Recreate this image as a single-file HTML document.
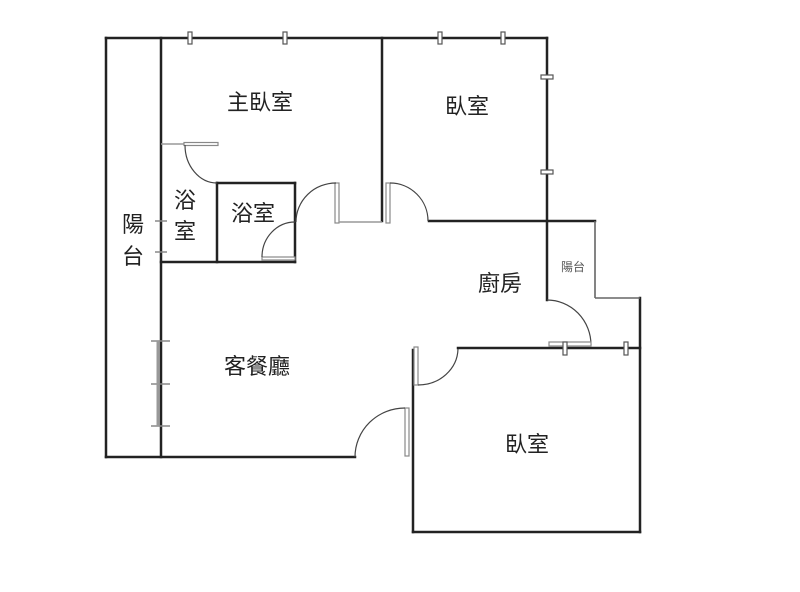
<!DOCTYPE html>
<html><head><meta charset="utf-8"><style>
html,body{margin:0;padding:0;background:#fff;}
svg{display:block;}
text{font-family:"Liberation Sans","Noto Sans CJK TC",sans-serif;fill:#222;}
</style></head><body>
<svg width="800" height="592" viewBox="0 0 800 592" xmlns="http://www.w3.org/2000/svg">
<g stroke="#222" stroke-width="2.5" fill="none" stroke-linecap="square">
<line x1="106" y1="38" x2="547" y2="38"/>
<line x1="106" y1="38" x2="106" y2="457"/>
<line x1="161" y1="38" x2="161" y2="457"/>
<line x1="106" y1="457" x2="355" y2="457"/>
<line x1="382" y1="38" x2="382" y2="221"/>
<line x1="547" y1="38" x2="547" y2="300"/>
<line x1="429" y1="221" x2="595" y2="221"/>
<line x1="217" y1="183" x2="295" y2="183"/>
<line x1="217" y1="183" x2="217" y2="262"/>
<line x1="295" y1="183" x2="295" y2="262"/>
<line x1="161" y1="262" x2="295" y2="262"/>
<line x1="413" y1="350" x2="413" y2="532"/>
<line x1="413" y1="532" x2="640" y2="532"/>
<line x1="640" y1="298" x2="640" y2="532"/>
<line x1="458" y1="348" x2="640" y2="348"/>
</g>
<g stroke="#666" stroke-width="1.6" fill="none">
<line x1="595" y1="221" x2="595" y2="298"/>
<line x1="595" y1="298" x2="640" y2="298"/>
</g>
<g stroke="#444" stroke-width="1.2" fill="none">
<line x1="161" y1="144" x2="185" y2="144" stroke="#999" stroke-width="1.5"/>
<rect x="184" y="142.5" width="34" height="3" fill="#fff" stroke="#888"/>
<path d="M185 145 A32 38 0 0 0 217 183"/>
<rect x="262" y="257" width="33" height="3" fill="#fff" stroke="#888"/>
<path d="M262 257 A33 35 0 0 1 295 222"/>
<rect x="335" y="183" width="4" height="40" fill="#fff" stroke="#888"/>
<path d="M296 222 A40 39 0 0 1 336 183"/>
<line x1="339" y1="222" x2="382" y2="222" stroke="#999" stroke-width="1.5"/>
<rect x="386" y="183" width="4" height="40" fill="#fff" stroke="#888"/>
<path d="M390 183 A38 38 0 0 1 428 221"/>
<path d="M547 300 A44 45 0 0 1 591 345"/>
<rect x="549" y="342" width="42" height="4" fill="#fff" stroke="#888"/>
<rect x="414" y="347" width="4" height="38" fill="#fff" stroke="#888"/>
<path d="M418 385 A40 37 0 0 0 458 349"/>
<rect x="405" y="408" width="4" height="48" fill="#fff" stroke="#888"/>
<path d="M355 457 A50 49 0 0 1 405 408"/>
</g>
<g stroke="#555" stroke-width="1.2" fill="#fff">
<rect x="188" y="32" width="4" height="12"/>
<rect x="283" y="32" width="4" height="12"/>
<rect x="438" y="32" width="4" height="12"/>
<rect x="501" y="32" width="4" height="12"/>
<rect x="541" y="75" width="12" height="4"/>
<rect x="541" y="170" width="12" height="4"/>
<rect x="563" y="342" width="4" height="13"/>
<rect x="624" y="342" width="4" height="13"/>
</g>
<g stroke="#888" stroke-width="1.5">
<line x1="155" y1="221" x2="167" y2="221"/>
<line x1="155" y1="252" x2="167" y2="252"/>
<line x1="151" y1="341" x2="170" y2="341"/>
<line x1="151" y1="384" x2="170" y2="384"/>
<line x1="151" y1="426" x2="170" y2="426"/>
<line x1="158" y1="341" x2="158" y2="426" stroke-width="3" stroke="#999"/>
</g>
<g font-size="22" text-anchor="middle">
<text x="260" y="110">主臥室</text>
<text x="467" y="114">臥室</text>
<text x="185" y="208">浴</text>
<text x="185" y="239">室</text>
<text x="253" y="221">浴室</text>
<text x="133" y="232">陽</text>
<text x="133" y="264">台</text>
<text x="500" y="291">廚房</text>
<text x="257" y="374">客餐廳</text>
<text x="527" y="452">臥室</text>
</g>
<text x="573" y="271" font-size="12" text-anchor="middle" style="fill:#555">陽台</text>
</svg>
</body></html>
